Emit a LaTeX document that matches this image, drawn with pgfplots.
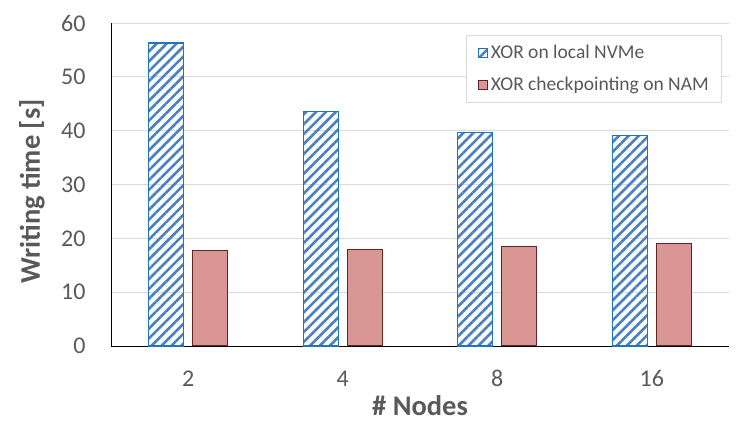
\documentclass[border=0pt]{standalone}
\usepackage{fontspec}
\setmainfont{Carlito}
\usepackage{pgfplots}
\pgfplotsset{compat=1.18}
\usetikzlibrary{patterns.meta}
\definecolor{txtgray}{HTML}{595959}
\definecolor{gridgray}{HTML}{D9D9D9}
\definecolor{blueedge}{HTML}{1E73C3}
\definecolor{bluestripe}{HTML}{4A80C0}
\definecolor{redfill}{HTML}{D99694}
\definecolor{rededge}{HTML}{632523}
\begin{document}
\begin{tikzpicture}
\begin{axis}[
  scale only axis,
  width=618pt, height=323pt,
  ybar=9pt, bar width=35pt,
  xmin=-0.5, xmax=3.5,
  ymin=0, ymax=60,
  xtick=data,
  xticklabels={2,4,8,16},
  ytick={0,10,...,60},
  axis x line*=bottom,
  axis y line*=left,
  axis line style={black, line width=0.8pt, -},
  major tick length=0pt,
  ymajorgrids,
  grid style={gridgray, line width=0.8pt},
  /pgf/number format/assume math mode=true,
  tick label style={font=\fontsize{24}{26}\selectfont, text=txtgray},
  yticklabel style={anchor=east, xshift=-22pt},
  xticklabel style={anchor=base, yshift=-41pt},
  every axis y label/.style={at={(axis description cs:0,0.5)}, xshift=-79pt, yshift=-7pt, rotate=90, anchor=center},
  every axis x label/.style={at={(axis description cs:0.5,0)}, yshift=-70pt, anchor=base},
  ylabel={\bfseries Writing time [s]},
  xlabel={\bfseries \# Nodes},
  label style={font=\fontsize{28.5}{30}\selectfont\bfseries, text=txtgray},
  legend style={at={(0.989,0.963)}, anchor=north east, draw=gridgray, line width=0.8pt,
    font=\fontsize{19.5}{23}\selectfont, text=txtgray, row sep=13pt,
    inner xsep=11pt, inner ysep=8pt,
    /tikz/every odd column/.append style={column sep=1pt}},
  legend cell align=left,
  legend image code/.code={\draw[#1, line width=1pt] (0pt,-4.5pt) rectangle (9pt,4.5pt);},
  clip=false,
]
\addplot[draw=blueedge, line width=1.2pt, pattern={Lines[angle=45,distance=7pt,line width=2.6pt]}, pattern color=bluestripe]
  coordinates {(0,56.3) (1,43.5) (2,39.6) (3,39.1)};
\addplot[draw=rededge, line width=1.0pt, fill=redfill]
  coordinates {(0,17.7) (1,18.0) (2,18.5) (3,19.1)};
\legend{XOR on local NVMe, XOR checkpointing on NAM}
\coordinate (bl) at (rel axis cs:0,0);
\coordinate (tr) at (rel axis cs:1,1);
\end{axis}
\pgfresetboundingbox
\path[use as bounding box] ([xshift=-111pt,yshift=-82pt]bl) rectangle ([xshift=18pt,yshift=23pt]tr);
\end{tikzpicture}
\end{document}
